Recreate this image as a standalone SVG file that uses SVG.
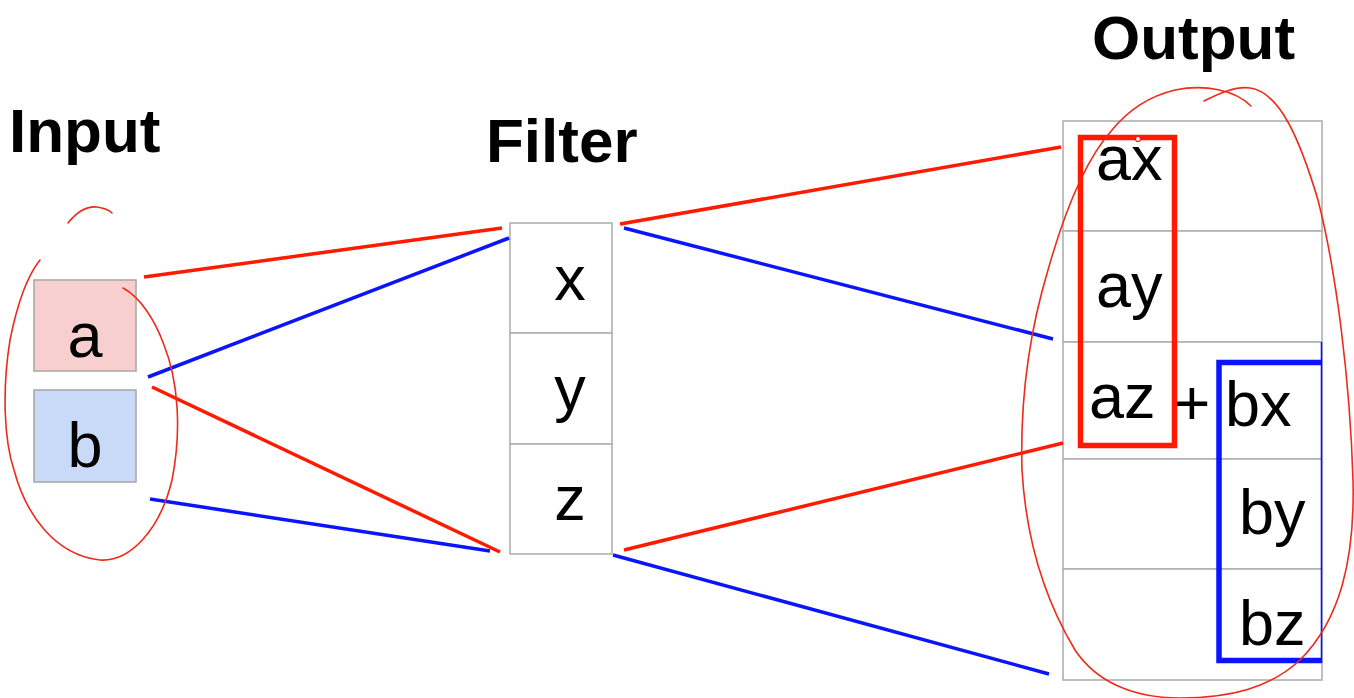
<svg xmlns="http://www.w3.org/2000/svg" width="1354" height="698" viewBox="0 0 1354 698">
<style>
.title{font-family:"Liberation Sans",Arial,sans-serif;font-weight:bold;font-size:62px;fill:#000}
.lbl{font-family:"Liberation Sans",Arial,sans-serif;font-size:63px;fill:#000}
.mid{text-anchor:middle}
.cell{fill:#fff;stroke:#b0b0b0;stroke-width:1.6}
.red{stroke:#ff1a00;stroke-width:3.5;fill:none;stroke-linecap:butt}
.blue{stroke:#0a14ff;stroke-width:3.5;fill:none;stroke-linecap:butt}
.ink{stroke:#ee2a1a;stroke-width:1.6;fill:none;stroke-linecap:round}
</style>
<rect width="1354" height="698" fill="#fff"/>

<g id="titles">
<text class="title" x="9" y="152">Input</text>
<text class="title" x="486" y="162">Filter</text>
<text class="title" x="1092" y="59">Output</text>
</g>

<g id="input-a">
<rect x="34" y="280" width="102" height="91" fill="#f8cfcf" stroke="#aaaaaa" stroke-width="1.6"/>
<text class="lbl mid" x="85" y="357">a</text>
</g>
<g id="input-b">
<rect x="34" y="390" width="102" height="92" fill="#c9daf8" stroke="#aaaaaa" stroke-width="1.6"/>
<text class="lbl mid" x="85" y="467">b</text>
</g>

<g id="filter">
<rect class="cell" x="510" y="223" width="102" height="110"/>
<rect class="cell" x="510" y="333" width="102" height="111"/>
<rect class="cell" x="510" y="444" width="102" height="110"/>
<text class="lbl mid" x="570" y="300">x</text>
<text class="lbl mid" x="570" y="410">y</text>
<text class="lbl mid" x="570" y="520">z</text>
</g>

<g id="output">
<rect class="cell" x="1063" y="121" width="259" height="110"/>
<rect class="cell" x="1063" y="231" width="259" height="111"/>
<rect class="cell" x="1063" y="342" width="259" height="117"/>
<rect class="cell" x="1063" y="459" width="259" height="110"/>
<rect class="cell" x="1063" y="569" width="259" height="111"/>
<text class="lbl" x="1096" y="180">ax</text>
<text class="lbl" x="1096" y="307">ay</text>
<text class="lbl" x="1089" y="418">az</text>
<text class="lbl mid" x="1192" y="425">+</text>
<text class="lbl" x="1225" y="426">bx</text>
<text class="lbl" x="1239" y="534">by</text>
<text class="lbl" x="1239" y="645">bz</text>
</g>

<g id="group-a">
<rect x="1080.5" y="137.5" width="94" height="308" fill="none" stroke="#ff1a00" stroke-width="5.5"/>
<circle cx="1138" cy="139" r="2.5" fill="#fff" stroke="#ff1a00" stroke-width="1.2"/>
</g>
<g id="group-b">
<path d="M1322 362.5 H1219 V660.5 H1322" fill="none" stroke="#0a14ff" stroke-width="5.5"/>
<line x1="1321.5" y1="342" x2="1321.5" y2="663" stroke="#0a14ff" stroke-width="1.6"/>
</g>

<g id="connectors">
<line class="red" x1="144" y1="277" x2="502" y2="228"/>
<line class="blue" x1="148" y1="377" x2="509" y2="238"/>
<line class="red" x1="152" y1="387" x2="500" y2="552"/>
<line class="blue" x1="150" y1="499" x2="490" y2="551"/>
<line class="red" x1="620" y1="224" x2="1061" y2="147"/>
<line class="blue" x1="624" y1="228" x2="1053" y2="339"/>
<line class="red" x1="624" y1="550" x2="1063" y2="443"/>
<line class="blue" x1="613" y1="555" x2="1049" y2="674"/>
</g>

<g id="annotations">
<path class="ink" d="M68 223 C76 213 86 206 97 207 C104 208 109 210 112 213"/>
<path class="ink" d="M40 260 C28 275 18 300 10 340 C2 390 4 440 14 470 C26 515 55 555 100 560 C130 562 160 530 172 480 C182 430 178 380 164 345 C155 320 140 297 123 288"/>
<path class="ink" d="M1204 101 C1220 93 1236 86 1250 88 C1280 92 1300 140 1318 200 C1336 270 1350 380 1353 480 C1355 560 1340 620 1300 660 C1270 688 1230 698 1180 698 C1130 698 1095 680 1075 650 C1045 600 1026 540 1022 470 C1020 400 1030 330 1048 270 C1065 210 1085 160 1112 130 C1130 108 1150 96 1175 90 C1205 84 1235 90 1251 106"/>
</g>
</svg>
